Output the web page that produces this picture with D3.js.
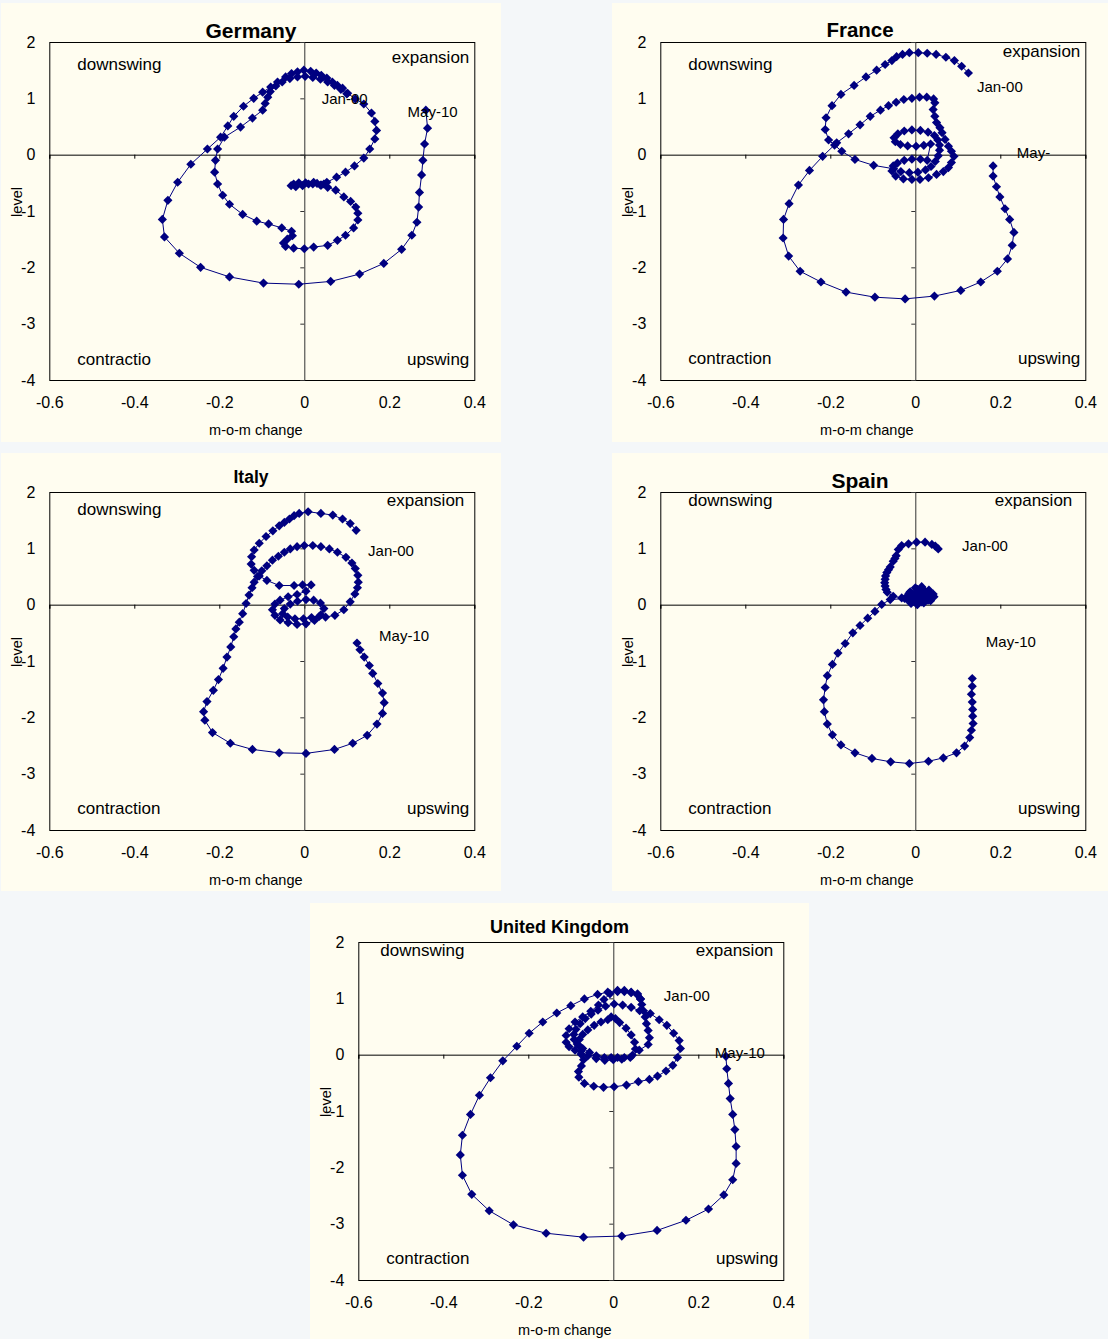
<!DOCTYPE html>
<html>
  <head>
    <meta charset="UTF-8" />
    <style>
      body { margin: 0; background: #f4f7f9; }
      svg { display: block; font-family: 'Liberation Sans', Arial, sans-serif; }
    </style>
  </head>
  <body>
    <svg></svg>

    <script src="https://d3js.org/d3.v7.min.js"></script>

    <script>
      let width = 1108,
        height = 1339

      // [m-o-m change, level], monthly Jan-00 .. May-10
      const germany = [
        [0.100, 1.08], [0.086, 1.16], [0.071, 1.23], [0.055, 1.29], [0.038, 1.34], [0.020, 1.37], [0.002, 1.39],
        [-0.016, 1.38], [-0.034, 1.35], [-0.052, 1.29], [-0.067, 1.22], [-0.080, 1.12], [-0.086, 1.02], [-0.092, 0.91],
        [-0.098, 0.79], [-0.122, 0.65], [-0.150, 0.49], [-0.188, 0.31], [-0.204, 0.10], [-0.209, -0.10], [-0.211, -0.31],
        [-0.204, -0.52], [-0.192, -0.72], [-0.176, -0.88], [-0.145, -1.06], [-0.112, -1.18], [-0.084, -1.23], [-0.053, -1.30],
        [-0.030, -1.36], [-0.028, -1.44], [-0.040, -1.50], [-0.049, -1.57], [-0.044, -1.63], [-0.025, -1.66], [0.000, -1.67],
        [0.022, -1.64], [0.055, -1.61], [0.078, -1.52], [0.097, -1.43], [0.116, -1.30], [0.126, -1.16], [0.126, -1.04],
        [0.121, -0.93], [0.109, -0.83], [0.093, -0.75], [0.074, -0.63], [0.055, -0.58], [0.038, -0.54], [0.020, -0.52],
        [0.003, -0.50], [-0.013, -0.50], [-0.025, -0.52], [-0.031, -0.55], [-0.020, -0.57], [-0.004, -0.55], [0.010, -0.52],
        [0.022, -0.49], [0.030, -0.51], [0.040, -0.54], [0.046, -0.52], [0.053, -0.49], [0.076, -0.40], [0.097, -0.31],
        [0.118, -0.20], [0.140, -0.06], [0.154, 0.10], [0.166, 0.28], [0.170, 0.43], [0.166, 0.59], [0.158, 0.74],
        [0.140, 0.90], [0.120, 0.99], [0.102, 1.09], [0.090, 1.18], [0.078, 1.23], [0.066, 1.29], [0.053, 1.36],
        [0.040, 1.41], [0.028, 1.45], [0.015, 1.48], [-0.001, 1.50], [-0.016, 1.47], [-0.030, 1.44], [-0.044, 1.38],
        [-0.063, 1.29], [-0.079, 1.20], [-0.098, 1.11], [-0.119, 1.00], [-0.143, 0.86], [-0.166, 0.68], [-0.180, 0.51],
        [-0.197, 0.31], [-0.228, 0.10], [-0.267, -0.17], [-0.298, -0.49], [-0.321, -0.81], [-0.334, -1.15], [-0.329, -1.46],
        [-0.294, -1.75], [-0.244, -2.00], [-0.176, -2.17], [-0.096, -2.28], [-0.013, -2.30], [0.062, -2.25], [0.130, -2.12],
        [0.187, -1.93], [0.229, -1.68], [0.253, -1.43], [0.265, -1.20], [0.269, -0.93], [0.271, -0.67], [0.276, -0.36],
        [0.279, -0.10], [0.283, 0.19], [0.290, 0.47], [0.286, 0.79]
      ]

      const france = [
        [0.125, 1.45], [0.109, 1.57], [0.092, 1.67], [0.072, 1.73], [0.049, 1.78], [0.028, 1.80], [0.007, 1.81],
        [-0.014, 1.81], [-0.030, 1.78], [-0.044, 1.74], [-0.055, 1.67], [-0.071, 1.60], [-0.091, 1.50], [-0.116, 1.38],
        [-0.144, 1.23], [-0.175, 1.07], [-0.196, 0.87], [-0.210, 0.655], [-0.212, 0.447], [-0.204, 0.26], [-0.190, 0.17],
        [-0.173, 0.06], [-0.142, -0.085], [-0.098, -0.19], [-0.051, -0.25], [-0.034, -0.30], [-0.014, -0.32], [0.006, -0.31],
        [0.024, -0.27], [0.037, -0.21], [0.047, -0.12], [0.054, -0.02], [0.057, 0.08], [0.057, 0.17], [0.053, 0.26],
        [0.045, 0.34], [0.030, 0.40], [0.012, 0.43], [-0.008, 0.44], [-0.026, 0.42], [-0.041, 0.37], [-0.050, 0.30],
        [-0.047, 0.23], [-0.035, 0.18], [-0.018, 0.155], [0.002, 0.15], [0.020, 0.165], [0.036, 0.19], [0.028, -0.10],
        [0.012, -0.08], [-0.008, -0.08], [-0.026, -0.10], [-0.042, -0.15], [-0.052, -0.20], [-0.055, -0.29], [-0.046, -0.38],
        [-0.028, -0.43], [-0.008, -0.44], [0.011, -0.44], [0.031, -0.41], [0.050, -0.35], [0.066, -0.30], [0.078, -0.23],
        [0.085, -0.14], [0.091, -0.03], [0.085, 0.06], [0.078, 0.15], [0.070, 0.27], [0.063, 0.39], [0.058, 0.48],
        [0.050, 0.57], [0.046, 0.68], [0.042, 0.80], [0.046, 0.92], [0.043, 0.99], [0.027, 1.02], [0.010, 1.02],
        [-0.008, 1.00], [-0.027, 0.98], [-0.045, 0.93], [-0.063, 0.87], [-0.082, 0.79], [-0.106, 0.68], [-0.130, 0.53],
        [-0.157, 0.37], [-0.185, 0.21], [-0.218, -0.03], [-0.249, -0.28], [-0.275, -0.54], [-0.297, -0.87], [-0.310, -1.15],
        [-0.311, -1.48], [-0.298, -1.80], [-0.271, -2.07], [-0.222, -2.26], [-0.163, -2.44], [-0.095, -2.53], [-0.024, -2.56],
        [0.045, -2.51], [0.107, -2.41], [0.154, -2.26], [0.193, -2.07], [0.217, -1.85], [0.228, -1.61], [0.232, -1.38],
        [0.222, -1.15], [0.211, -0.96], [0.199, -0.75], [0.191, -0.57], [0.183, -0.38], [0.183, -0.20]
      ]

      const italy = [
        [0.122, 1.32], [0.108, 1.44], [0.090, 1.52], [0.067, 1.59], [0.039, 1.62], [0.009, 1.65], [-0.012, 1.62],
        [-0.024, 1.58], [-0.035, 1.52], [-0.047, 1.46], [-0.059, 1.40], [-0.074, 1.31], [-0.090, 1.21], [-0.106, 1.09],
        [-0.118, 0.97], [-0.124, 0.85], [-0.125, 0.72], [-0.118, 0.61], [-0.106, 0.51], [-0.088, 0.43], [-0.059, 0.34],
        [-0.024, 0.34], [-0.004, 0.35], [0.016, 0.35], [0.004, 0.24], [-0.017, 0.18], [-0.038, 0.14], [-0.057, 0.08],
        [-0.069, 0.01], [-0.075, -0.09], [-0.069, -0.19], [-0.057, -0.27], [-0.038, -0.32], [-0.017, -0.35], [0.004, -0.34],
        [0.024, -0.28], [0.039, -0.18], [0.046, -0.07], [0.038, 0.03], [0.022, 0.08], [0.004, 0.09], [-0.016, 0.06],
        [-0.033, 0.01], [-0.047, -0.07], [-0.051, -0.16], [-0.039, -0.22], [-0.022, -0.25], [-0.002, -0.25], [0.017, -0.23],
        [0.035, -0.21], [0.050, -0.22], [0.072, -0.19], [0.093, -0.09], [0.108, 0.05], [0.119, 0.19], [0.125, 0.30],
        [0.127, 0.40], [0.126, 0.52], [0.120, 0.64], [0.112, 0.74], [0.098, 0.84], [0.078, 0.93], [0.059, 0.99],
        [0.039, 1.03], [0.020, 1.05], [0.000, 1.05], [-0.017, 1.03], [-0.033, 0.99], [-0.047, 0.93], [-0.061, 0.86],
        [-0.075, 0.79], [-0.088, 0.69], [-0.100, 0.60], [-0.110, 0.50], [-0.118, 0.40], [-0.123, 0.30], [-0.130, 0.17],
        [-0.137, 0.02], [-0.145, -0.16], [-0.153, -0.31], [-0.161, -0.43], [-0.166, -0.57], [-0.173, -0.75], [-0.182, -0.93],
        [-0.191, -1.13], [-0.202, -1.33], [-0.214, -1.52], [-0.229, -1.72], [-0.237, -1.90], [-0.234, -2.05], [-0.216, -2.27],
        [-0.174, -2.46], [-0.122, -2.57], [-0.059, -2.63], [0.004, -2.64], [0.071, -2.57], [0.114, -2.46], [0.148, -2.32],
        [0.171, -2.12], [0.184, -1.93], [0.188, -1.74], [0.184, -1.57], [0.173, -1.40], [0.161, -1.22], [0.153, -1.08],
        [0.141, -0.93], [0.131, -0.80], [0.124, -0.68]
      ]

      const spain = [
        [0.054, 0.99], [0.047, 1.04], [0.039, 1.07], [0.023, 1.11], [0.003, 1.11], [-0.016, 1.08], [-0.032, 1.05],
        [-0.040, 0.98], [-0.045, 0.87], [-0.048, 0.82], [-0.052, 0.77], [-0.059, 0.67], [-0.063, 0.62], [-0.067, 0.57],
        [-0.070, 0.51], [-0.071, 0.45], [-0.072, 0.39], [-0.071, 0.33], [-0.069, 0.27], [-0.066, 0.22], [-0.052, 0.15],
        [-0.032, 0.12], [-0.020, 0.10], [-0.015, 0.20], [0.000, 0.30], [0.015, 0.32], [0.032, 0.26], [0.042, 0.19],
        [0.044, 0.14], [0.036, 0.07], [0.020, 0.03], [0.005, 0.00], [-0.010, 0.02], [-0.022, 0.12], [-0.012, 0.23],
        [0.005, 0.27], [0.022, 0.25], [0.035, 0.19], [0.040, 0.14], [0.030, 0.08], [0.015, 0.05], [0.000, 0.04],
        [-0.012, 0.07], [-0.010, 0.14], [0.000, 0.20], [0.015, 0.21], [0.028, 0.17], [0.032, 0.13], [0.022, 0.10],
        [0.008, 0.08], [-0.005, 0.10], [0.000, 0.15], [0.012, 0.17], [0.022, 0.15], [0.018, 0.12], [0.005, 0.12],
        [-0.025, 0.11], [-0.059, 0.09], [-0.079, 0.005], [-0.095, -0.12], [-0.112, -0.24], [-0.130, -0.37], [-0.147, -0.50],
        [-0.165, -0.69], [-0.182, -0.86], [-0.195, -1.06], [-0.207, -1.26], [-0.212, -1.47], [-0.216, -1.69], [-0.214, -1.90],
        [-0.207, -2.12], [-0.195, -2.31], [-0.175, -2.49], [-0.142, -2.63], [-0.102, -2.73], [-0.058, -2.79], [-0.014, -2.82],
        [0.031, -2.78], [0.066, -2.72], [0.097, -2.63], [0.116, -2.51], [0.128, -2.36], [0.132, -2.23], [0.136, -2.11],
        [0.135, -1.98], [0.135, -1.86], [0.134, -1.73], [0.132, -1.59], [0.134, -1.45], [0.134, -1.31]
      ]

      const uk = [
        [0.064, 0.99], [0.057, 1.06], [0.042, 1.10], [0.026, 1.12], [0.010, 1.12], [-0.008, 1.08], [-0.022, 0.98],
        [-0.035, 0.88], [-0.053, 0.77], [-0.072, 0.67], [-0.090, 0.58], [-0.104, 0.46], [-0.111, 0.34], [-0.111, 0.22],
        [-0.104, 0.14], [-0.090, 0.08], [-0.076, 0.01], [-0.070, -0.09], [-0.075, -0.20], [-0.082, -0.30], [-0.081, -0.40],
        [-0.068, -0.51], [-0.046, -0.56], [-0.023, -0.58], [0.002, -0.57], [0.031, -0.54], [0.059, -0.48], [0.085, -0.44],
        [0.104, -0.38], [0.124, -0.29], [0.140, -0.19], [0.151, -0.05], [0.158, 0.11], [0.155, 0.25], [0.142, 0.38],
        [0.126, 0.52], [0.108, 0.62], [0.087, 0.73], [0.062, 0.78], [0.042, 0.84], [0.022, 0.88], [0.002, 0.90],
        [-0.018, 0.86], [-0.036, 0.79], [-0.052, 0.72], [-0.066, 0.64], [-0.078, 0.55], [-0.088, 0.45], [-0.093, 0.36],
        [-0.092, 0.27], [-0.085, 0.19], [-0.072, 0.11], [-0.056, 0.04], [-0.040, -0.02], [-0.021, -0.05], [-0.005, -0.05],
        [0.010, -0.05], [0.026, -0.05], [0.045, -0.01], [0.052, 0.10], [0.050, 0.22], [0.042, 0.35], [0.030, 0.47],
        [0.015, 0.57], [0.005, 0.64], [-0.005, 0.67], [-0.013, 0.62], [-0.029, 0.58], [-0.045, 0.52], [-0.060, 0.44],
        [-0.072, 0.36], [-0.080, 0.27], [-0.082, 0.17], [-0.076, 0.06], [-0.060, -0.02], [-0.040, -0.07], [-0.020, -0.10],
        [0.000, -0.09], [0.020, -0.08], [0.040, -0.05], [0.061, 0.08], [0.082, 0.18], [0.085, 0.30], [0.082, 0.43],
        [0.078, 0.55], [0.075, 0.67], [0.071, 0.78], [0.067, 0.89], [0.064, 0.99], [0.057, 1.08], [0.042, 1.11],
        [0.026, 1.14], [0.010, 1.14], [-0.013, 1.11], [-0.037, 1.07], [-0.068, 0.99], [-0.100, 0.87], [-0.133, 0.74],
        [-0.166, 0.58], [-0.198, 0.38], [-0.227, 0.15], [-0.260, -0.11], [-0.289, -0.41], [-0.315, -0.72], [-0.336, -1.06],
        [-0.355, -1.43], [-0.360, -1.78], [-0.355, -2.14], [-0.333, -2.48], [-0.292, -2.77], [-0.235, -3.02], [-0.158, -3.17],
        [-0.070, -3.24], [0.020, -3.22], [0.103, -3.12], [0.171, -2.94], [0.224, -2.74], [0.260, -2.49], [0.281, -2.22],
        [0.289, -1.93], [0.289, -1.63], [0.286, -1.33], [0.281, -1.06], [0.275, -0.78], [0.271, -0.51], [0.267, -0.25],
        [0.265, -0.03]
      ]

      // point labels: [text, change, level] (left edge of the text)
      const germanyNotes = [['Jan-00', 0.041, 0.985], ['May-10', 0.243, 0.77]]
      const franceNotes = [['Jan-00', 0.145, 1.21], ['May-', 0.239, 0.04]]
      const italyNotes = [['Jan-00', 0.15, 0.957], ['May-10', 0.176, -0.55]]
      const spainNotes = [['Jan-00', 0.11, 1.05], ['May-10', 0.166, -0.65]]
      const ukNotes = [['Jan-00', 0.119, 1.04], ['May-10', 0.239, 0.035]]

      const xTicks = [-0.6, -0.4, -0.2, 0, 0.2, 0.4]
      const yTicks = [-4, -3, -2, -1, 0, 1, 2]
      const quadrants = ['downswing', 'expansion', 'contraction', 'upswing']

      let svg = d3.select('svg').attr('width', width).attr('height', height)

      // panel boxes and label offsets
      let panels = [
        { title: 'Germany', data: germany, notes: germanyNotes, x: 1, y: 3, w: 500, h: 439, ts: 21, ty: 27,
          quad: [[28, 22], [-5, 15], [28, -21], [-5, -21]], names: ['downswing', 'expansion', 'contractio', 'upswing'] },
        { title: 'France', data: france, notes: franceNotes, x: 612, y: 3, w: 496, h: 439, ts: 20.5, ty: 27,
          quad: [[28, 22], [-5, 9], [28, -22], [-5, -22]] },
        { title: 'Italy', data: italy, notes: italyNotes, x: 1, y: 453, w: 500, h: 438, ts: 17.5, ty: 24,
          quad: [[28, 17], [-10, 8], [28, -22], [-5, -22]] },
        { title: 'Spain', data: spain, notes: spainNotes, x: 612, y: 453, w: 496, h: 438, ts: 21, ty: 27,
          quad: [[28, 8], [-13, 8], [28, -22], [-5, -22]] },
        { title: 'United Kingdom', data: uk, notes: ukNotes, x: 310, y: 903, w: 499, h: 436, ts: 18, ty: 24,
          quad: [[22, 8], [-10, 8], [28, -22], [-5, -22]] },
      ]

      let pw = 425,
        ph = 338,
        navy = '#000080'

      panels.forEach((p) => {
        let g = svg.append('g').attr('transform', `translate(${p.x},${p.y})`)
        g.append('rect').attr('width', p.w).attr('height', p.h).attr('fill', '#fffdf0')

        g.append('text')
          .attr('x', p.w / 2)
          .attr('y', p.ty)
          .attr('dy', '0.36em')
          .attr('text-anchor', 'middle')
          .attr('font-weight', 'bold')
          .attr('font-size', p.ts)
          .text(p.title)

        let plot = g.append('g').attr('transform', 'translate(48.3,39)')

        let x = d3.scaleLinear().domain([-0.6, 0.4]).range([0, pw])
        let y = d3.scaleLinear().domain([-4, 2]).range([ph, 0])

        plot.append('rect')
          .attr('x', 0.5).attr('y', 0.5)
          .attr('width', pw).attr('height', ph)
          .attr('fill', 'none').attr('stroke', '#000')

        // axes crossing at zero
        plot.append('g')
          .attr('transform', `translate(0,${y(0)})`)
          .call(d3.axisBottom(x).tickValues(xTicks).tickSize(4).tickFormat(''))
        plot.append('g')
          .attr('transform', `translate(${x(0)},0)`)
          .call(d3.axisLeft(y).tickValues(yTicks).tickSize(4).tickFormat(''))
          .attr('color', '#333')

        // tick labels sit outside the plot
        plot.append('g')
          .attr('transform', `translate(0,${ph})`)
          .call(d3.axisBottom(x).tickValues(xTicks).tickSize(0).tickPadding(17).tickFormat((d) => String(d)))
          .call((a) => a.select('.domain').remove())
          .attr('font-size', 16).attr('font-family', null)
        plot.append('g')
          .call(d3.axisLeft(y).tickValues(yTicks).tickSize(0).tickPadding(14).tickFormat((d) => String(d)))
          .call((a) => a.select('.domain').remove())
          .attr('font-size', 16).attr('font-family', null)

        plot.append('text')
          .attr('x', pw / 2 - 6).attr('y', ph + 50)
          .attr('dy', '0.35em')
          .attr('text-anchor', 'middle')
          .attr('font-size', 14.5)
          .text('m-o-m change')
        plot.append('text')
          .attr('transform', `translate(-32,160) rotate(-90)`)
          .attr('dy', '0.35em')
          .attr('text-anchor', 'middle')
          .attr('font-size', 14.5)
          .text('level')

        // quadrant names
        let names = p.names || quadrants
        names.forEach((n, i) => {
          let right = i % 2 == 1,
            bottom = i >= 2
          plot.append('text')
            .attr('x', (right ? pw : 0) + p.quad[i][0])
            .attr('y', (bottom ? ph : 0) + p.quad[i][1])
            .attr('dy', '0.35em')
            .attr('text-anchor', right ? 'end' : 'start')
            .attr('font-size', 17)
            .text(n)
        })

        let line = d3.line().x((d) => x(d[0])).y((d) => y(d[1]))
        plot.append('path')
          .datum(p.data)
          .attr('d', line)
          .attr('fill', 'none')
          .attr('stroke', navy)
          .attr('stroke-width', 1)

        // diamond markers (square turned 45 degrees)
        plot.append('g')
          .selectAll('path')
          .data(p.data)
          .join('path')
          .attr('d', d3.symbol(d3.symbolSquare, 42))
          .attr('transform', (d) => `translate(${x(d[0])},${y(d[1])}) rotate(45)`)
          .attr('fill', navy)

        plot.append('g')
          .selectAll('text')
          .data(p.notes)
          .join('text')
          .attr('x', (d) => x(d[1]))
          .attr('y', (d) => y(d[2]))
          .attr('dy', '0.35em')
          .attr('font-size', 15)
          .text((d) => d[0])
      })
    </script>
  </body>
</html>
